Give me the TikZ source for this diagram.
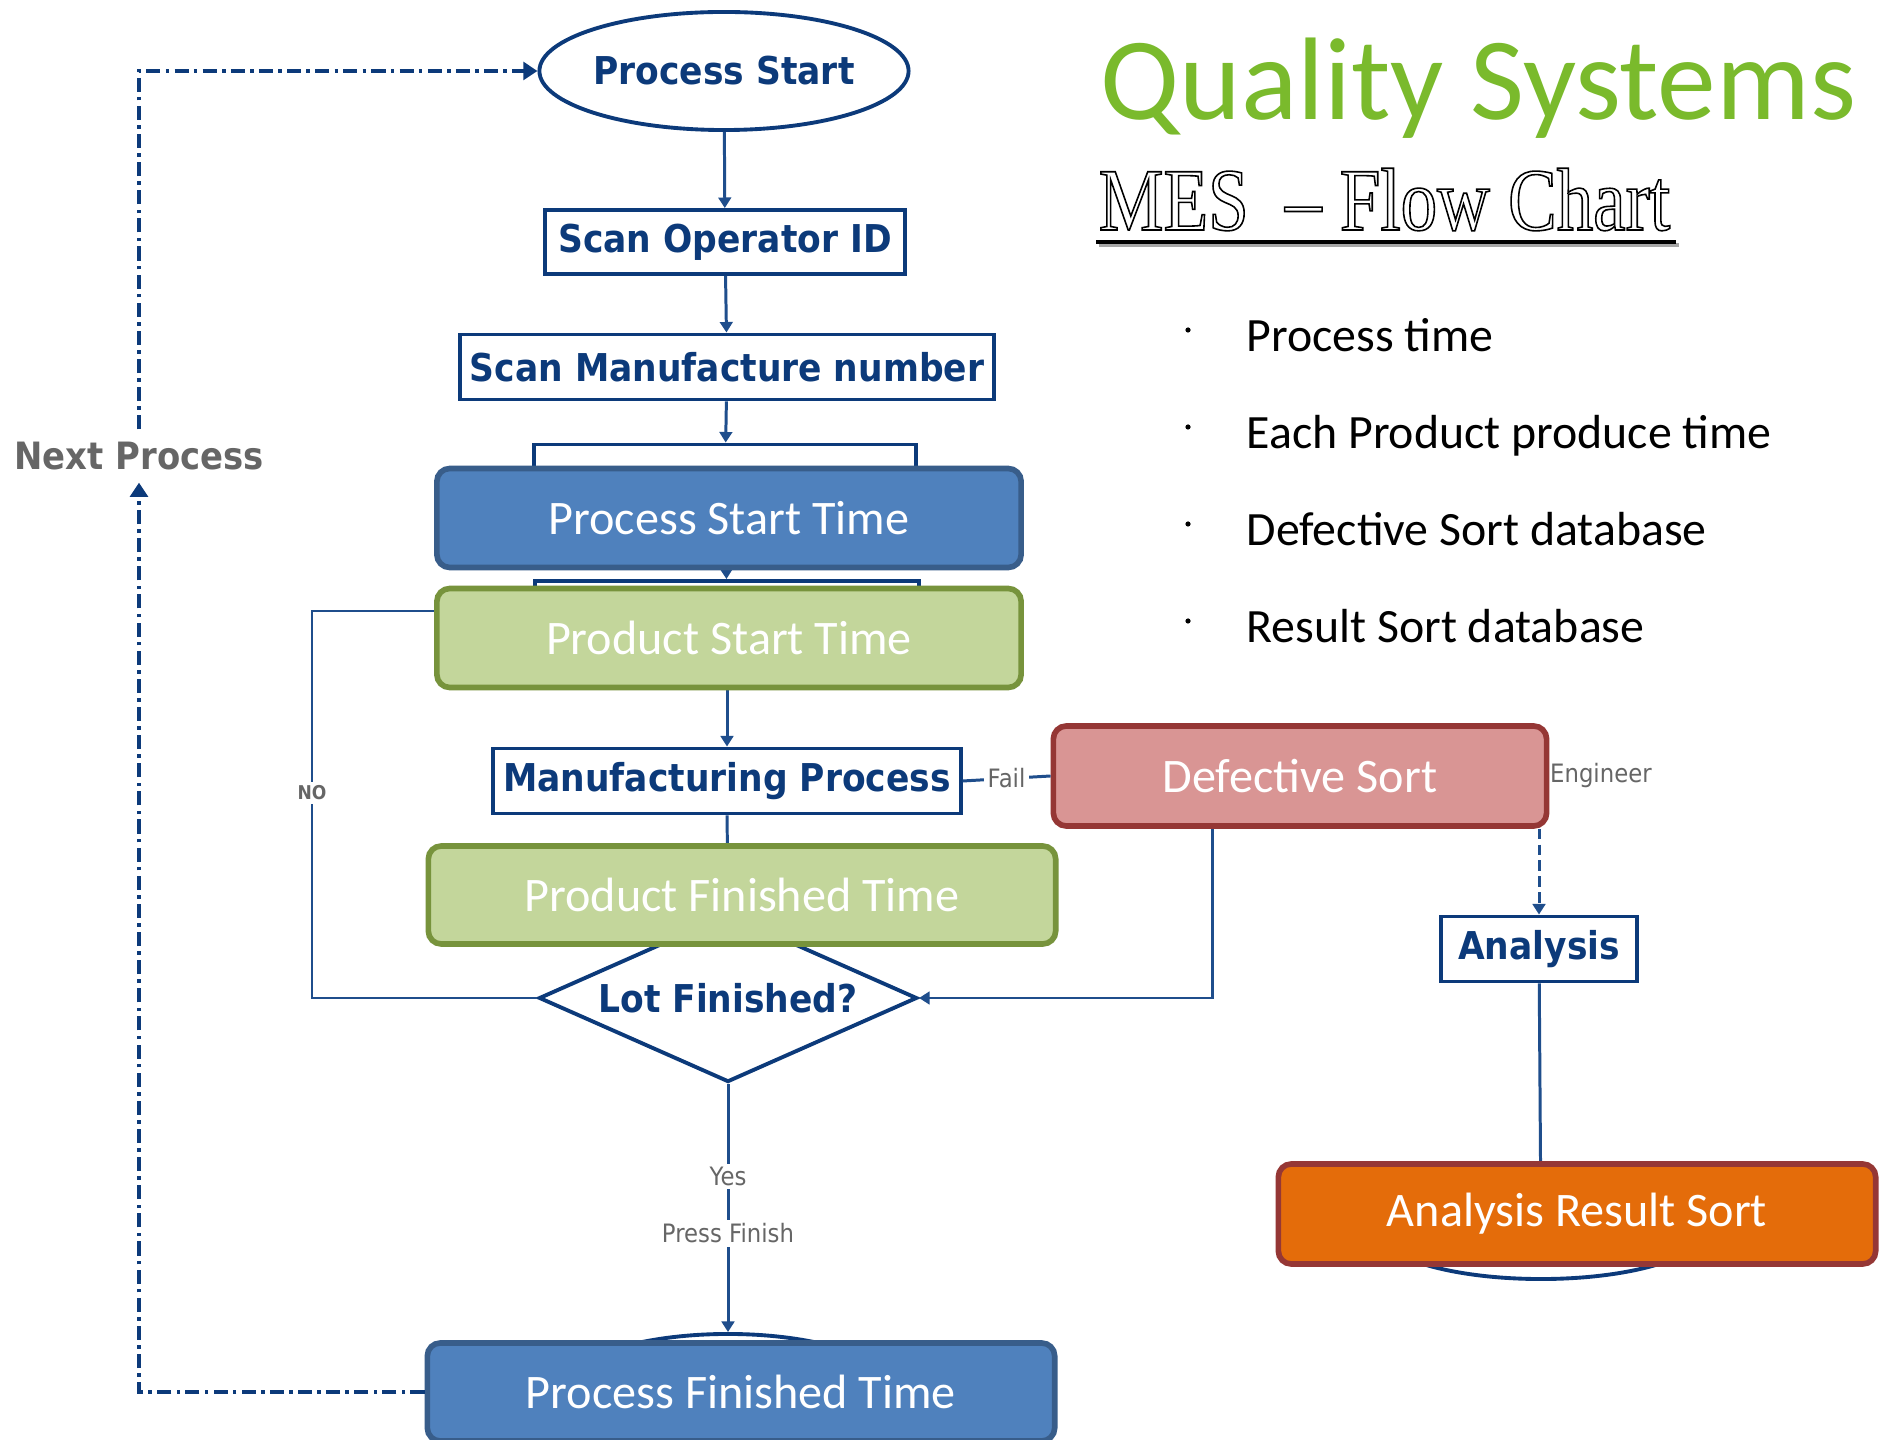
\documentclass[tikz,border=0pt]{standalone}
\usepackage{fontspec}
\setmainfont{Carlito}
\newfontfamily\tahoma[FakeStretch=0.9]{DejaVu Sans}
\newfontfamily\timesfont[FakeStretch=0.82]{Liberation Serif}
\usetikzlibrary{shapes.geometric,arrows.meta}

\definecolor{navy}{RGB}{12,58,122}
\definecolor{lineblue}{RGB}{31,78,140}
\definecolor{procblue}{RGB}{79,129,189}
\definecolor{procedge}{RGB}{56,93,138}
\definecolor{prodgreen}{RGB}{195,214,155}
\definecolor{prodedge}{RGB}{119,147,60}
\definecolor{defred}{RGB}{217,149,148}
\definecolor{defedge}{RGB}{149,55,53}
\definecolor{sortorange}{RGB}{228,108,10}
\definecolor{titlegreen}{RGB}{122,186,44}
\definecolor{labelgray}{RGB}{102,102,102}

\tikzset{
  scanbox/.style={draw=navy, line width=1.1pt, fill=white, text=navy,
    font=\tahoma\bfseries\fontsize{10.9}{13}\selectfont, inner sep=0pt},
  terminal/.style={scanbox, ellipse},
  timebox/.style={rounded corners=0.13cm, line width=1.6pt, text=white,
    font=\fontsize{13.7}{16}\selectfont, inner sep=0pt},
  flow/.style={draw=lineblue, line width=0.85pt, -{Triangle[length=3pt,width=3.6pt]}},
  link/.style={draw=lineblue, line width=0.85pt},
  loopline/.style={draw=navy, line width=1.1pt,
    dash pattern=on 4pt off 1.5pt on 1pt off 1.5pt, -{Triangle[length=4pt,width=5pt]}},
  smalllabel/.style={text=labelgray, font=\tahoma\fontsize{7.2}{8}\selectfont,
    fill=white, inner sep=1pt},
}

\begin{document}
\begin{tikzpicture}[x=0.01cm, y=-0.01cm]
  \fill[white] (0,0) rectangle (1881,1440);
  \useasboundingbox (0,0) rectangle (1881,1440);

  \node[terminal, minimum width=3.4cm, minimum height=1.18cm] (pstart) at (724,71) {Process Start};
  \node[scanbox, minimum width=3.59cm, minimum height=0.64cm] (operator) at (725,242) {Scan Operator ID};
  \node[scanbox, minimum width=5.34cm, minimum height=0.65cm] (manufacture) at (727,367) {Scan Manufacture number};
  \node[scanbox, minimum width=3.81cm, minimum height=0.75cm] (hidden1) at (725,482) {};
  \node[scanbox, minimum width=3.84cm, minimum height=0.6cm] (hidden2) at (727,611) {};
  \node[scanbox, minimum width=4.67cm, minimum height=0.65cm] (mprocess) at (727,781) {Manufacturing Process};
  \node[scanbox, diamond, aspect=2.25, minimum width=3.78cm, minimum height=1.68cm] (lot) at (728,998) {Lot Finished?};
  \node[scanbox, minimum width=1.96cm, minimum height=0.65cm] (analysis) at (1539,949) {Analysis};
  \node[terminal, minimum width=3.3cm, minimum height=1cm] (aend) at (1541,1229) {};
  \node[terminal, minimum width=3.4cm, minimum height=1.18cm] (pend) at (728,1393) {};
  \node[text=labelgray, font=\tahoma\bfseries\fontsize{10.7}{13}\selectfont, inner sep=0.12cm] (next) at (139,456) {Next Process};

  \draw[flow] (pstart) -- (operator);
  \draw[flow] (operator) -- (manufacture);
  \draw[flow] (manufacture) -- (hidden1);
  \draw[flow] (hidden1) -- (hidden2);
  \draw[flow] (hidden2) -- (mprocess);
  \draw[link] (mprocess) -- (lot);
  \draw[flow] (lot.west) -| (312,793) node[smalllabel, font=\tahoma\bfseries\fontsize{5.4}{6}\selectfont] {NO} |- (hidden2.west);
  \draw[flow] (lot.south) -- node[smalllabel, pos=0.373] {Yes} node[smalllabel, pos=0.603] {Press Finish} (pend.north);
  \draw[flow] (analysis) -- (aend);

  \node[timebox, draw=procedge, fill=procblue, minimum width=5.84cm, minimum height=0.99cm] (pstime) at (729,518) {Process Start Time};
  \node[timebox, draw=prodedge, fill=prodgreen, minimum width=5.84cm, minimum height=0.99cm] (prstart) at (729,638) {Product Start Time};
  \node[timebox, draw=prodedge, fill=prodgreen, minimum width=6.27cm, minimum height=0.98cm] (prfinish) at (742,895) {Product Finished Time};
  \node[timebox, draw=defedge, fill=defred, minimum width=4.93cm, minimum height=1cm] (defect) at (1300,776) {Defective Sort};
  \node[timebox, draw=defedge, fill=sortorange, minimum width=5.97cm, minimum height=1cm] (resultsort) at (1577,1214) {Analysis Result Sort};
  \node[timebox, draw=procedge, fill=procblue, minimum width=6.27cm, minimum height=0.98cm] (pftime) at (741,1392) {Process Finished Time};

  \draw[link] (mprocess.east) -- node[smalllabel] {Fail} (defect.west);
  \draw[flow] ([xshift=-0.87cm]defect.south) |- (lot.east);
  \draw[flow, dash pattern=on 3pt off 1.5pt] (analysis.north |- defect.south) -- (analysis.north);
  \node[smalllabel, fill=none, inner sep=0pt, anchor=west] (engineer) at (defect.east) {Engineer};
  \draw[loopline] (pftime.west) -| (next.south);
  \draw[loopline] (next.north) |- (pstart.west);

  \node[anchor=base west, inner sep=0pt, text=titlegreen, font=\fontsize{33.4}{40}\selectfont] (title) at (1100,120) {Quality Systems};
  \node[anchor=base west, inner sep=0pt, text=black, font=\timesfont\fontsize{25.3}{30}\selectfont] (subtitle) at (1098,230)
    {\special{pdf:literal direct 1 Tr 0.45 w}MES\ \ – Flow Chart\special{pdf:literal direct 0 Tr}};
  \draw[black!35, line width=1.1pt] (1099,245) -- (1679,245);
  \draw[black, line width=1.1pt] (1096,242) -- (1676,242);

  \foreach \y/\txt [count=\i] in {352/Process time, 449/Each Product produce time, 546/Defective Sort database, 643/Result Sort database} {
    \fill (1188,\y-22) circle (2.6);
    \node[anchor=base west, inner sep=0pt, font=\fontsize{13.6}{16}\selectfont] (item\i) at (1246,\y) {\txt};
  }
\end{tikzpicture}
\end{document}
